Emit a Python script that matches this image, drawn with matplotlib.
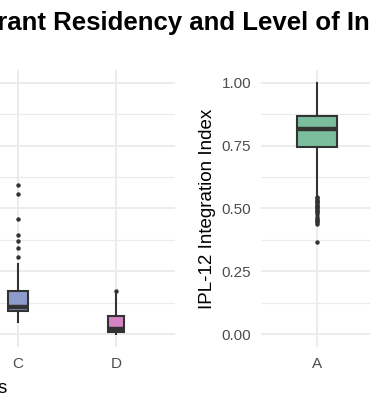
import matplotlib.pyplot as plt

plt.rcParams['font.family'] = ['Liberation Sans', 'DejaVu Sans']

# dados (estatisticas dos boxplots)
left_cats = ['C', 'D']
left_pos = [3, 4]
left_q1 = [0.091, 0.008]
left_med = [0.107, 0.020]
left_q3 = [0.174, 0.075]
left_lo = [0.051, 0.000]
left_hi = [0.280, 0.160]
left_fliers = [
    [0.593, 0.557, 0.458, 0.395, 0.372, 0.344, 0.308],
    [0.174],
]
left_colors = ['#8C9BCB', '#D584C4']

right_cats = ['A']
right_q1 = [0.745]
right_med = [0.814]
right_q3 = [0.868]
right_lo = [0.550]
right_hi = [1.000]
right_fliers = [[0.545, 0.54, 0.535, 0.53, 0.525, 0.52, 0.515, 0.51, 0.505,
                 0.50, 0.495, 0.49, 0.485, 0.48, 0.465, 0.46, 0.455, 0.45,
                 0.445, 0.44, 0.365]]
right_colors = ['#7BBE9D']

title_pre = 'Migrant '
title_main = 'Residency and Level of '
title_end = 'Integration'

yticks = [0, 0.25, 0.5, 0.75, 1.0]
yminor = [0.125, 0.375, 0.625, 0.875]

W, H = 370, 409
fig = plt.figure(figsize=(W / 100, H / 100), dpi=100)


def px_axes(x0, x1, y0, y1):
    return fig.add_axes([x0 / W, (H - y1) / H, (x1 - x0) / W, (y1 - y0) / H])


def style(ax):
    ax.set_ylim(-0.05, 1.05)
    ax.set_yticks(yticks)
    ax.set_yticklabels(['%.2f' % v for v in yticks])
    ax.set_yticks(yminor, minor=True)
    ax.grid(True, which='major', color='#EBEBEB', lw=1.3)
    ax.grid(True, which='minor', axis='y', color='#EBEBEB', lw=0.9)
    ax.set_axisbelow(True)
    for s in ax.spines.values():
        s.set_visible(False)
    ax.tick_params(which='both', length=0, pad=7, labelsize=11,
                   labelcolor='#4D4D4D')


def boxes(ax, names, pos, q1, med, q3, lo, hi, fl, cols, widths):
    stats = []
    for i in range(len(names)):
        stats.append(dict(label=names[i], q1=q1[i], med=med[i], q3=q3[i],
                          whislo=lo[i], whishi=hi[i], fliers=fl[i]))
    bp = ax.bxp(stats, positions=pos, widths=widths, patch_artist=True,
                showcaps=False,
                boxprops=dict(edgecolor='#333333', lw=1.5),
                whiskerprops=dict(color='#333333', lw=1.5),
                medianprops=dict(color='#333333', lw=3.2),
                flierprops=dict(marker='o', markersize=3.2,
                                markerfacecolor='#333333',
                                markeredgecolor='none'))
    for patch, c in zip(bp['boxes'], cols):
        patch.set_facecolor(c)


# painel esquerdo
ax_l = px_axes(-237, 175, 70, 347)
style(ax_l)
boxes(ax_l, left_cats, left_pos, left_q1, left_med, left_q3, left_lo,
      left_hi, left_fliers, left_colors, [0.2, 0.165])
ax_l.set_xlim(0.4, 4.6)
ax_l.set_xticks(left_pos)
ax_l.set_xticklabels(left_cats)
ax_l.set_xlabel('Categories', fontsize=13.5)
# rotulo do eixo x centrado no painel (so o final aparece)
ax_l.xaxis.set_label_coords(0.484, -0.118)

# painel direito
ax_r = px_axes(261, 373, 70, 347)
style(ax_r)
boxes(ax_r, right_cats, [1], right_q1, right_med, right_q3, right_lo,
      right_hi, right_fliers, right_colors, [0.42])
ax_r.set_xlim(0.4, 1.6)
ax_r.set_xticks([1])
ax_r.set_xticklabels(right_cats)
ax_r.set_ylabel('IPL-12 Integration Index', fontsize=13.5, labelpad=4)

# titulo: tamanho ajustado para que "Residency ... of " ocupe a largura certa
r = fig.canvas.get_renderer()
probe = fig.text(0, 0, title_main, fontsize=20, fontweight='bold')
w_main = probe.get_window_extent(r).width
fs = 20 * 294 / w_main
probe.set_text(title_pre)
probe.set_fontsize(fs)
w_pre = probe.get_window_extent(r).width
probe.remove()
fig.text((53 - w_pre) / W, (H - 30) / H, title_pre + title_main + title_end,
         fontsize=fs, fontweight='bold', ha='left', va='baseline')

fig.savefig('out.png', dpi=100)
